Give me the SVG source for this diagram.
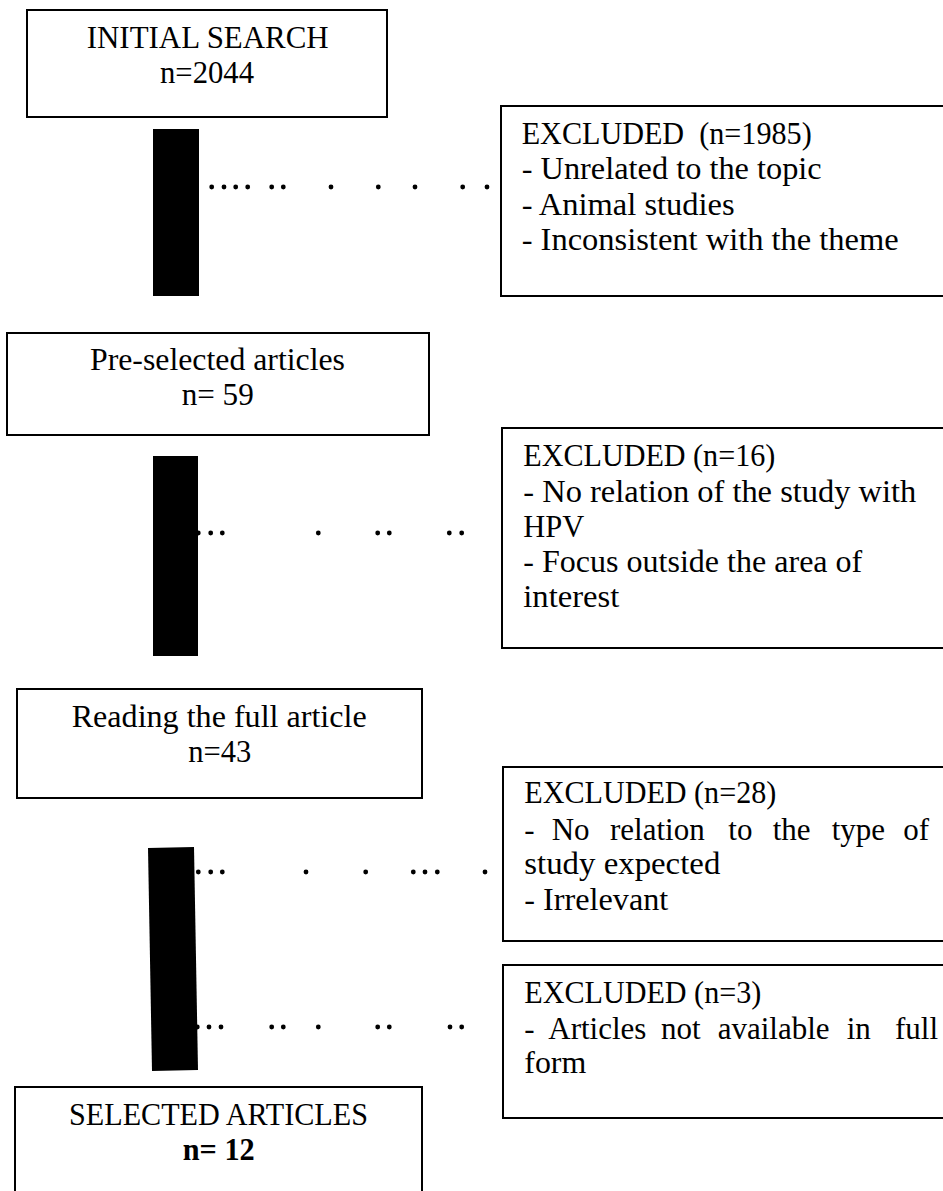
<svg xmlns="http://www.w3.org/2000/svg" width="943" height="1191" viewBox="0 0 943 1191">
<style>
.box{fill:#fff;stroke:#000;stroke-width:2}
.t{font-family:"Liberation Serif","Times New Roman",serif;font-size:31px;fill:#000}
.b{font-weight:bold}
.bar{fill:#000}
.dot{fill:#000}
</style>
<rect width="943" height="1191" fill="#fff"/>
<g id="connectors">
<rect class="bar" x="153" y="129" width="46" height="167"/>
<rect class="bar" x="153" y="456" width="45" height="200"/>
<polygon class="bar" points="148,848 194,847 198,1070 152,1071"/>
<g id="dots1">
<circle class="dot" cx="211.7" cy="187" r="2.4"/><circle class="dot" cx="224" cy="187" r="2.4"/><circle class="dot" cx="235.7" cy="187" r="2.4"/><circle class="dot" cx="247.7" cy="187" r="2.4"/><circle class="dot" cx="271.7" cy="187" r="2.4"/><circle class="dot" cx="283.3" cy="187" r="2.4"/><circle class="dot" cx="331" cy="187" r="2.4"/><circle class="dot" cx="378.3" cy="187" r="2.4"/><circle class="dot" cx="415" cy="187" r="2.4"/><circle class="dot" cx="462.7" cy="187" r="2.4"/><circle class="dot" cx="487" cy="187" r="2.4"/>
</g>
<g id="dots2">
<circle class="dot" cx="198.3" cy="533" r="2.4"/><circle class="dot" cx="210.7" cy="533" r="2.4"/><circle class="dot" cx="222.3" cy="533" r="2.4"/><circle class="dot" cx="318.3" cy="533" r="2.4"/><circle class="dot" cx="377.7" cy="533" r="2.4"/><circle class="dot" cx="389.3" cy="533" r="2.4"/><circle class="dot" cx="449.3" cy="533" r="2.4"/><circle class="dot" cx="461.7" cy="533" r="2.4"/>
</g>
<g id="dots3">
<circle class="dot" cx="198.3" cy="872" r="2.4"/><circle class="dot" cx="210.7" cy="872" r="2.4"/><circle class="dot" cx="222.3" cy="872" r="2.4"/><circle class="dot" cx="306" cy="872" r="2.4"/><circle class="dot" cx="365.7" cy="872" r="2.4"/><circle class="dot" cx="413.3" cy="872" r="2.4"/><circle class="dot" cx="425" cy="872" r="2.4"/><circle class="dot" cx="437.3" cy="872" r="2.4"/><circle class="dot" cx="485" cy="872" r="2.4"/>
</g>
<g id="dots4">
<circle class="dot" cx="197.3" cy="1027" r="2.4"/><circle class="dot" cx="209" cy="1027" r="2.4"/><circle class="dot" cx="221" cy="1027" r="2.4"/><circle class="dot" cx="271.7" cy="1027" r="2.4"/><circle class="dot" cx="283.3" cy="1027" r="2.4"/><circle class="dot" cx="318.3" cy="1027" r="2.4"/><circle class="dot" cx="377.7" cy="1027" r="2.4"/><circle class="dot" cx="389.3" cy="1027" r="2.4"/><circle class="dot" cx="450" cy="1027" r="2.4"/><circle class="dot" cx="461.7" cy="1027" r="2.4"/>
</g>
</g>
<g id="initial-search">
<rect class="box" x="27" y="10" width="360" height="107"/>
<text class="t" x="86.7" y="48" textLength="242" lengthAdjust="spacingAndGlyphs">INITIAL SEARCH</text>
<text class="t" x="160" y="83" textLength="94" lengthAdjust="spacingAndGlyphs">n=2044</text>
</g>
<g id="excluded-1985">
<rect class="box" x="501" y="106" width="460" height="190"/>
<text class="t" x="521.7" y="144" textLength="290" lengthAdjust="spacingAndGlyphs" xml:space="preserve">EXCLUDED  (n=1985)</text>
<text class="t" x="521.7" y="179" textLength="300" lengthAdjust="spacingAndGlyphs">- Unrelated to the topic</text>
<text class="t" x="521.7" y="215" textLength="213" lengthAdjust="spacingAndGlyphs">- Animal studies</text>
<text class="t" x="521.7" y="250" textLength="377" lengthAdjust="spacingAndGlyphs">- Inconsistent with the theme</text>
</g>
<g id="pre-selected">
<rect class="box" x="7" y="333" width="422" height="102"/>
<text class="t" x="90" y="370" textLength="255" lengthAdjust="spacingAndGlyphs">Pre-selected articles</text>
<text class="t" x="181.7" y="405" textLength="72" lengthAdjust="spacingAndGlyphs">n= 59</text>
</g>
<g id="excluded-16">
<rect class="box" x="502" y="428" width="460" height="220"/>
<text class="t" x="523.3" y="466" textLength="252" lengthAdjust="spacingAndGlyphs">EXCLUDED (n=16)</text>
<text class="t" x="523.3" y="502" textLength="393" lengthAdjust="spacingAndGlyphs">- No relation of the study with</text>
<text class="t" x="523.3" y="537" textLength="61" lengthAdjust="spacingAndGlyphs">HPV</text>
<text class="t" x="523.3" y="572" textLength="339" lengthAdjust="spacingAndGlyphs">- Focus outside the area of</text>
<text class="t" x="523.3" y="607" textLength="96" lengthAdjust="spacingAndGlyphs">interest</text>
</g>
<g id="full-article">
<rect class="box" x="17" y="689" width="405" height="109"/>
<text class="t" x="71.7" y="727" textLength="295" lengthAdjust="spacingAndGlyphs">Reading the full article</text>
<text class="t" x="188.3" y="762" textLength="63" lengthAdjust="spacingAndGlyphs">n=43</text>
</g>
<g id="excluded-28">
<rect class="box" x="503" y="767" width="460" height="174"/>
<text class="t" x="524.3" y="803" textLength="252" lengthAdjust="spacingAndGlyphs">EXCLUDED (n=28)</text>
<text class="t" y="840"><tspan x="524.3">- </tspan><tspan x="551.7">No </tspan><tspan x="610">relation </tspan><tspan x="728.3">to </tspan><tspan x="772.7">the </tspan><tspan x="831.7">type </tspan><tspan x="903.3">of</tspan></text>
<text class="t" x="524.3" y="874" textLength="196" lengthAdjust="spacingAndGlyphs">study expected</text>
<text class="t" x="524.3" y="910" textLength="144" lengthAdjust="spacingAndGlyphs">- Irrelevant</text>
</g>
<g id="excluded-3">
<rect class="box" x="503" y="965" width="460" height="153"/>
<text class="t" x="524.3" y="1003" textLength="237" lengthAdjust="spacingAndGlyphs">EXCLUDED (n=3)</text>
<text class="t" y="1039"><tspan x="524.3">- </tspan><tspan x="548.3">Articles </tspan><tspan x="661">not </tspan><tspan x="717.7">available </tspan><tspan x="846.7">in </tspan><tspan x="895">full</tspan></text>
<text class="t" x="524.3" y="1073" textLength="62" lengthAdjust="spacingAndGlyphs">form</text>
</g>
<g id="selected">
<rect class="box" x="15" y="1087" width="407" height="120"/>
<text class="t" x="69" y="1125" textLength="299" lengthAdjust="spacingAndGlyphs">SELECTED ARTICLES</text>
<text class="t b" x="182.7" y="1160" textLength="72" lengthAdjust="spacingAndGlyphs">n= 12</text>
</g>
</svg>
